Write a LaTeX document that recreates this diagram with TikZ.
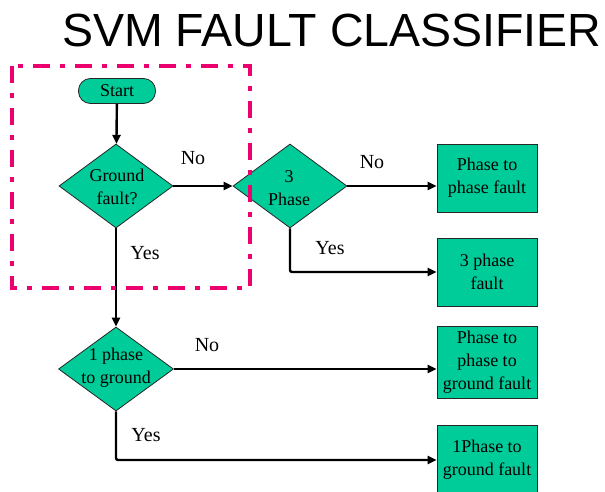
\documentclass[tikz,border=0pt]{standalone}
\usepackage{fontspec}
\setmainfont{Liberation Serif}
\newfontfamily\titlefont{Liberation Sans}
\usetikzlibrary{shapes.geometric,arrows.meta}
\definecolor{flowgreen}{RGB}{0,204,153}
\definecolor{framepink}{RGB}{235,0,110}
\begin{document}
\begin{tikzpicture}[x=1pt,y=1pt,
  shapeline/.style={draw=black!85,line width=0.8pt,fill=flowgreen},
  startbox/.style={shapeline,rectangle,rounded corners=12pt,minimum width=77pt,minimum height=25pt,inner sep=0pt,font=\fontsize{18}{23}\selectfont},
  decision/.style={shapeline,diamond,minimum width=114pt,minimum height=84pt,inner sep=0pt},
  decisiontext/.style={align=center,inner sep=0pt,font=\fontsize{18}{23}\selectfont},
  resultbox/.style={shapeline,rectangle,minimum width=100pt,inner sep=0pt,align=center,font=\fontsize{18}{23}\selectfont},
  flow/.style={draw=black,line width=2.4pt,rounded corners=2pt,-{Triangle[length=9pt,width=8pt]}},
  branch/.style={font=\fontsize{20}{24}\selectfont,inner sep=0pt},
  frame/.style={draw=framepink,line width=4pt,dash pattern=on 17pt off 10pt on 5pt off 10pt}]
\useasboundingbox (0,0) rectangle (605,491);

% title
\node[anchor=base west,inner sep=0pt,font=\titlefont\fontsize{46.5}{50}\selectfont] (title) at (62,444) {SVM FAULT CLASSIFIER};

% shapes
\node[startbox] (start) at (117,400) {Start};
\node[decision] (gf) at (116,305) {};
\node[decisiontext] (gft) at (117,304) {Ground\\fault?};
\node[decision] (ph3) at (290,305) {};
\node[decisiontext] (ph3t) at (289,303) {3\\Phase};
\node[decision,minimum width=115pt] (op) at (116,122) {};
\node[decisiontext] (opt) at (116,123) {1 phase\\to ground};

\node[resultbox,minimum height=68pt] (ptp) at (487,313) {Phase to\\phase fault};
\node[resultbox,minimum height=68pt] (p3f) at (487,219) {3 phase\\fault};
\node[resultbox,minimum height=72pt] (ptpg) at (487,129) {Phase to\\phase to\\ground fault};
\node[resultbox,minimum height=70pt] (opg) at (487,31) {1Phase to\\ground fault};

% connectors
\draw[flow] (start) -- (gf);
\draw[flow] (gf.east) -- (ph3.west);
\draw[flow] (ph3.east) -- (ph3.east -| ptp.west);
\draw[flow] (ph3.south) |- (p3f.west);
\draw[flow] (gf.south) -- (op.north);
\draw[flow] (op.east) -- (op.east -| ptpg.west);
\draw[flow] (op.south) |- (opg.west);

% branch labels
\node[branch] (gfno) at (193,333) {No};
\node[branch] (gfyes) at (145,238) {Yes};
\node[branch] (ph3no) at (372,329) {No};
\node[branch] (ph3yes) at (330,243) {Yes};
\node[branch] (opno) at (207,146) {No};
\node[branch] (opyes) at (146,56) {Yes};

% dash-dotted frame around the first decision
\draw[frame] (12,425) rectangle (250,203);
\end{tikzpicture}
\end{document}
